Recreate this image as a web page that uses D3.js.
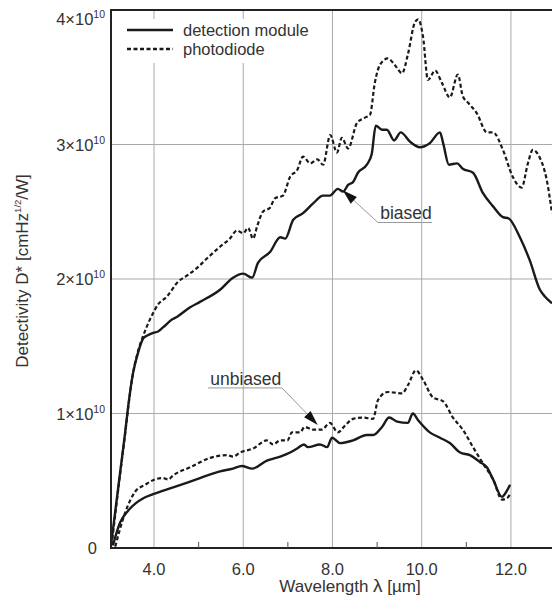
<!DOCTYPE html>
<html>
<head>
<meta charset="utf-8">
<script src="https://cdn.jsdelivr.net/npm/d3@7"></script>
<style>
  body { margin: 0; background: #fff; }
  text { font-family: "Liberation Sans", Arial, sans-serif; fill: #333; }
</style>
</head>
<body>
<svg id="chart" width="552" height="596"></svg>
<script>
// Data: [wavelength µm, D* in 1e10 cmHz^1/2/W]
const moduleBiased = [
  [3.04,0.03],[3.24,0.56],[3.35,0.85],[3.42,1.05],[3.53,1.30],[3.64,1.45],[3.76,1.56],[3.85,1.58],
  [3.98,1.60],[4.09,1.61],[4.2,1.64],[4.41,1.70],[4.52,1.72],[4.81,1.79],[5.03,1.83],[5.48,1.92],
  [5.77,2.01],[6.0,2.04],[6.2,2.01],[6.33,2.12],[6.6,2.20],[6.83,2.31],[6.94,2.30],[7.12,2.44],
  [7.34,2.49],[7.56,2.56],[7.79,2.62],[7.94,2.62],[8.12,2.67],[8.24,2.65],[8.35,2.70],[8.46,2.72],
  [8.57,2.79],[8.77,2.85],[8.88,2.93],[8.97,3.14],[9.11,3.11],[9.22,3.11],[9.38,3.03],[9.53,3.09],
  [9.74,3.02],[9.96,2.98],[10.18,3.01],[10.41,3.09],[10.48,3.01],[10.61,2.85],[10.79,2.86],[10.92,2.82],
  [11.15,2.79],[11.37,2.64],[11.6,2.54],[11.82,2.46],[11.95,2.45],[12.2,2.31],[12.42,2.14],[12.65,1.92],
  [12.76,1.87],[12.92,1.82]
];
const diodeBiased = [
  [3.05,0.02],[3.24,0.55],[3.35,0.84],[3.42,1.04],[3.53,1.30],[3.64,1.46],[3.76,1.58],[3.91,1.70],
  [4.09,1.81],[4.29,1.87],[4.54,1.98],[4.76,2.03],[4.99,2.09],[5.21,2.16],[5.48,2.24],[5.7,2.30],
  [5.86,2.36],[6.0,2.34],[6.11,2.38],[6.22,2.30],[6.31,2.39],[6.44,2.50],[6.6,2.53],[6.71,2.60],
  [6.89,2.62],[7.05,2.76],[7.21,2.81],[7.34,2.91],[7.5,2.86],[7.66,2.89],[7.79,2.85],[7.95,3.07],
  [8.1,2.94],[8.21,3.05],[8.35,2.97],[8.55,3.16],[8.73,3.20],[8.84,3.22],[8.95,3.46],[9.06,3.59],
  [9.24,3.64],[9.4,3.59],[9.56,3.53],[9.69,3.67],[9.85,3.91],[9.92,3.93],[10.03,3.80],[10.14,3.48],
  [10.3,3.55],[10.45,3.46],[10.63,3.35],[10.81,3.52],[10.92,3.36],[11.04,3.31],[11.24,3.23],[11.46,3.09],
  [11.6,3.09],[11.82,2.96],[12.04,2.76],[12.24,2.68],[12.38,2.86],[12.49,2.96],[12.65,2.90],[12.8,2.74],
  [12.92,2.49]
];
const moduleUnbiased = [
  [3.08,0.02],[3.24,0.19],[3.4,0.27],[3.58,0.33],[3.76,0.37],[3.98,0.40],[4.43,0.45],[5.03,0.52],
  [5.48,0.57],[5.77,0.59],[5.97,0.61],[6.2,0.59],[6.53,0.65],[6.83,0.68],[7.05,0.71],[7.21,0.74],
  [7.36,0.77],[7.45,0.75],[7.72,0.77],[7.88,0.75],[7.99,0.82],[8.17,0.78],[8.46,0.80],[8.77,0.84],
  [8.91,0.84],[9.11,0.90],[9.27,0.97],[9.45,0.94],[9.69,0.93],[9.8,1.00],[9.92,0.95],[10.18,0.86],
  [10.41,0.82],[10.63,0.78],[10.86,0.71],[11.08,0.69],[11.3,0.64],[11.46,0.60],[11.6,0.51],[11.8,0.38],
  [11.86,0.40],[11.98,0.47]
];
const diodeUnbiased = [
  [3.13,0.01],[3.35,0.26],[3.58,0.42],[3.8,0.47],[4.02,0.51],[4.2,0.52],[4.32,0.51],[4.43,0.54],
  [4.81,0.60],[5.26,0.67],[5.64,0.69],[5.77,0.68],[5.93,0.71],[6.22,0.74],[6.53,0.80],[6.67,0.77],
  [6.83,0.80],[6.99,0.80],[7.09,0.86],[7.27,0.86],[7.38,0.90],[7.56,0.88],[7.76,0.88],[7.94,0.93],
  [8.12,0.86],[8.28,0.91],[8.46,0.96],[8.68,0.97],[8.91,0.96],[9.02,1.10],[9.24,1.16],[9.56,1.15],
  [9.69,1.21],[9.87,1.32],[10.03,1.25],[10.25,1.12],[10.48,1.09],[10.7,0.97],[10.92,0.88],[11.15,0.75],
  [11.37,0.63],[11.6,0.51],[11.8,0.36],[11.91,0.37],[11.98,0.40]
];
const xTicks = [4, 6, 8, 10, 12];
const xMinor = [5, 7, 9, 11];
const yTicks = [0, 1, 2, 3, 4];
const legendLabels = ['detection module', 'photodiode'];

const svg = d3.select('#chart');
const pLeft = 111, pRight = 552, pTop = 10, pBottom = 548;
const x = d3.scaleLinear().domain([3.036, 12.92]).range([pLeft, pRight]);
const y = d3.scaleLinear().domain([0, 4]).range([pBottom, pTop]);

// Grid
svg.append('g').selectAll('line').data(xTicks).join('line')
  .attr('x1', d => x(d)).attr('x2', d => x(d)).attr('y1', pTop).attr('y2', pBottom)
  .attr('stroke', '#aaa').attr('stroke-width', 1);
svg.append('g').selectAll('line').data(yTicks.slice(1, 4)).join('line')
  .attr('x1', pLeft).attr('x2', pRight).attr('y1', d => y(d)).attr('y2', d => y(d))
  .attr('stroke', '#aaa').attr('stroke-width', 1);

// Legend background hides grid
svg.append('rect').attr('x', 113).attr('y', 19).attr('width', 210).attr('height', 44).attr('fill', '#fff');

// Curves
const line = d3.line().x(d => x(d[0])).y(d => y(d[1])).curve(d3.curveMonotoneX);
const series = [
  { data: moduleBiased, dash: null },
  { data: diodeBiased, dash: '4,2.5' },
  { data: moduleUnbiased, dash: null },
  { data: diodeUnbiased, dash: '4,2.5' }
];
svg.append('g').selectAll('path').data(series).join('path')
  .attr('d', d => line(d.data))
  .attr('fill', 'none').attr('stroke', '#1a1a1a')
  .attr('stroke-width', d => d.dash ? 2.2 : 2.4)
  .attr('stroke-dasharray', d => d.dash)
  .attr('stroke-linejoin', 'round');

// Frame
svg.append('path')
  .attr('d', `M${pRight},${pTop}H${pLeft}V${pBottom}H${pRight}`)
  .attr('fill', 'none').attr('stroke', '#222').attr('stroke-width', 2);

// Minor ticks
svg.append('g').selectAll('line').data(xMinor).join('line')
  .attr('x1', d => x(d)).attr('x2', d => x(d)).attr('y1', pBottom).attr('y2', pBottom - 6)
  .attr('stroke', '#555').attr('stroke-width', 1);

// X labels
svg.append('g').selectAll('text').data(xTicks).join('text')
  .attr('x', d => x(d)).attr('y', 575).attr('text-anchor', 'middle')
  .attr('font-size', 16.5).text(d => d.toFixed(1));

const xt = svg.append('text').attr('x', 350).attr('y', 592).attr('text-anchor', 'middle')
  .attr('font-size', 17);
xt.append('tspan').text('Wavelength ');
xt.append('tspan').attr('font-size', 19).text('λ');
xt.append('tspan').text('  [µm]');

// Y labels
const yl = svg.append('g').selectAll('text').data(yTicks).join('text')
  .attr('x', d => d === 0 ? 97 : 105)
  .attr('y', d => Math.max(y(d), 19) + 6)
  .attr('text-anchor', 'end').attr('font-size', 16.5);
yl.each(function(d) {
  const t = d3.select(this);
  if (d === 0) { t.text('0'); return; }
  t.append('tspan').text(d + '×10');
  t.append('tspan').attr('font-size', 10.5).attr('dy', -7).text('10');
});

// Y title
const yt = svg.append('text')
  .attr('transform', 'translate(28,271) rotate(-90)')
  .attr('text-anchor', 'middle').attr('font-size', 17);
yt.append('tspan').text('Detectivity D* [cmHz');
yt.append('tspan').attr('font-size', 9.5).attr('dy', -7).text('1/2');
yt.append('tspan').attr('dy', 7).text('/W]');

// Legend
const lg = svg.append('g').selectAll('g').data(legendLabels).join('g')
  .attr('transform', (d, i) => `translate(127,${30 + i * 19})`);
lg.append('line').attr('x1', 0).attr('x2', 46).attr('y1', 0).attr('y2', 0)
  .attr('stroke', '#1a1a1a').attr('stroke-width', 2.4)
  .attr('stroke-dasharray', (d, i) => i ? '4,2.5' : null);
lg.append('text').attr('x', 56).attr('y', 6).attr('font-size', 16.5).text(d => d);

// Annotations
function annotate(tip, elbow, lineEnd, label, textX, textY) {
  const tx = x(tip[0]), ty = y(tip[1]);
  const ex = x(elbow[0]), ey = y(elbow[1]);
  const ang = Math.atan2(ey - ty, ex - tx);
  const len = 15, half = 4.5;
  const bx = tx + len * Math.cos(ang), by = ty + len * Math.sin(ang);
  svg.append('path')
    .attr('d', `M${bx},${by}L${ex},${ey}H${x(lineEnd)}`)
    .attr('fill', 'none').attr('stroke', '#999').attr('stroke-width', 1);
  svg.append('path')
    .attr('d', `M${tx},${ty}L${bx - half * Math.sin(ang)},${by + half * Math.cos(ang)}L${bx + half * Math.sin(ang)},${by - half * Math.cos(ang)}Z`)
    .attr('fill', '#111');
  svg.append('text').attr('x', x(textX)).attr('y', y(textY)).attr('font-size', 17.5).text(label);
}
annotate([8.23, 2.66], [9.02, 2.42], 10.23, 'biased', 9.07, 2.445);
annotate([7.67, 0.915], [6.87, 1.19], 5.21, 'unbiased', 5.26, 1.21);
</script>
</body>
</html>
